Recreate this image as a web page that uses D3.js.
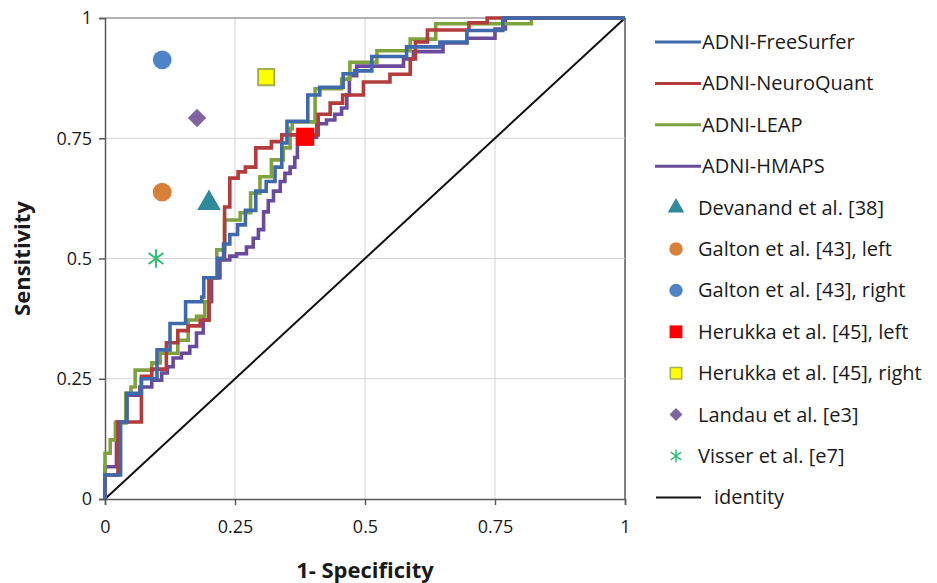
<!doctype html>
<html>
<head>
<meta charset="utf-8">
<title>ROC curves</title>
<script src="https://cdnjs.cloudflare.com/ajax/libs/d3/7.8.5/d3.min.js"></script>
<style>
  body { margin: 0; background: #fff; }
  text { font-family: "Open Sans", sans-serif; fill: #1a1a1a; }
</style>
</head>
<body>
<div id="chart"></div>
<script>
// ROC curves: [1-specificity, sensitivity], step after each point
const freeSurfer = [[0,0],[0,0.05],[0.03,0.16],[0.042,0.22],[0.07,0.25],[0.1,0.31],[0.125,0.365],[0.155,0.41],[0.186,0.42],[0.19,0.46],[0.217,0.5],[0.228,0.53],[0.24,0.55],[0.255,0.57],[0.27,0.6],[0.29,0.64],[0.31,0.66],[0.327,0.69],[0.34,0.74],[0.35,0.785],[0.39,0.84],[0.413,0.856],[0.458,0.884],[0.48,0.89],[0.513,0.92],[0.58,0.94],[0.644,0.95],[0.696,0.974],[0.765,1],[1,1]];
const neuroQuant = [[0,0],[0,0.05],[0.025,0.16],[0.07,0.255],[0.09,0.27],[0.118,0.325],[0.14,0.35],[0.16,0.36],[0.183,0.372],[0.2,0.46],[0.217,0.5],[0.23,0.607],[0.24,0.667],[0.256,0.68],[0.27,0.69],[0.29,0.73],[0.32,0.743],[0.34,0.757],[0.41,0.8],[0.433,0.823],[0.457,0.84],[0.497,0.867],[0.548,0.883],[0.587,0.915],[0.597,0.95],[0.62,0.975],[0.7,0.99],[0.735,1],[1,1]];
const leap = [[0,0],[0,0.095],[0.01,0.123],[0.02,0.158],[0.04,0.22],[0.05,0.233],[0.058,0.268],[0.09,0.283],[0.106,0.303],[0.14,0.33],[0.16,0.372],[0.176,0.38],[0.192,0.41],[0.2,0.46],[0.215,0.518],[0.23,0.58],[0.26,0.595],[0.28,0.636],[0.298,0.67],[0.32,0.705],[0.343,0.73],[0.356,0.77],[0.36,0.784],[0.404,0.853],[0.455,0.873],[0.471,0.908],[0.523,0.932],[0.587,0.956],[0.636,0.988],[0.82,1],[1,1]];
const hmaps = [[0,0],[0,0.067],[0.022,0.16],[0.042,0.216],[0.067,0.233],[0.09,0.247],[0.109,0.262],[0.12,0.275],[0.131,0.293],[0.147,0.303],[0.163,0.317],[0.176,0.345],[0.189,0.372],[0.2,0.41],[0.205,0.46],[0.221,0.497],[0.24,0.505],[0.253,0.51],[0.272,0.524],[0.285,0.542],[0.295,0.56],[0.305,0.597],[0.314,0.62],[0.324,0.64],[0.337,0.66],[0.346,0.677],[0.356,0.69],[0.365,0.71],[0.37,0.752],[0.407,0.78],[0.426,0.788],[0.442,0.8],[0.455,0.813],[0.465,0.84],[0.47,0.88],[0.484,0.9],[0.574,0.915],[0.593,0.93],[0.65,0.948],[0.696,0.958],[0.75,0.977],[0.77,1],[1,1]];
const identity = [[0,0],[1,1]];

// single studies
const studyNames = ["Devanand et al. [38]", "Galton et al. [43], left", "Galton et al. [43], right",
  "Herukka et al. [45], left", "Herukka et al. [45], right", "Landau et al. [e3]", "Visser et al. [e7]"];
const studyFpr  = [0.2, 0.11, 0.11, 0.385, 0.31, 0.177, 0.098];
const studySens = [0.615, 0.638, 0.913, 0.753, 0.877, 0.792, 0.5];

const ticks = [0, 0.25, 0.5, 0.75, 1];

const W = 937, H = 583;
const m = {left: 105, top: 18, right: 312, bottom: 84};
const pw = W - m.left - m.right, ph = H - m.top - m.bottom;

const svg = d3.select('#chart').append('svg').attr('width', W).attr('height', H);
const g = svg.append('g').attr('transform', `translate(${m.left},${m.top})`);

const x = d3.scaleLinear().domain([0, 1]).range([0, pw]);
const y = d3.scaleLinear().domain([0, 1]).range([ph, 0]);

// grid
g.selectAll('.gx').data(ticks.slice(1)).join('line')
  .attr('x1', d => x(d)).attr('x2', d => x(d)).attr('y1', 0).attr('y2', ph)
  .attr('stroke', d => d == 1 ? '#595959' : '#d4d4d4').attr('stroke-width', d => d == 1 ? 1.5 : 1);
g.selectAll('.gy').data(ticks.slice(1)).join('line')
  .attr('y1', d => y(d)).attr('y2', d => y(d)).attr('x1', 0).attr('x2', pw)
  .attr('stroke', d => d == 1 ? '#9a9a9a' : '#d4d4d4').attr('stroke-width', d => d == 1 ? 1.5 : 1);

// axes
const fmt = d => d3.format('')(d);
const xAxis = g.append('g').attr('transform', `translate(0,${ph})`)
  .call(d3.axisBottom(x).tickValues(ticks).tickFormat(fmt).tickSize(6).tickPadding(15));
const yAxis = g.append('g')
  .call(d3.axisLeft(y).tickValues(ticks).tickFormat(fmt).tickSize(6).tickPadding(7));
[xAxis, yAxis].forEach(a => {
  a.select('.domain').attr('stroke', '#595959').attr('stroke-width', 1.5);
  a.selectAll('.tick line').attr('stroke', '#595959').attr('stroke-width', 1.5);
  a.selectAll('.tick text').attr('font-size', 18).attr('font-family', '"Open Sans", sans-serif').attr('fill', '#1a1a1a');
});

svg.append('text').attr('x', m.left + pw / 2).attr('y', 578).attr('text-anchor', 'middle')
  .attr('font-size', 22).attr('font-weight', 'bold').text('1- Specificity');
svg.append('text').attr('transform', `translate(30,${m.top + ph / 2}) rotate(-90)`).attr('text-anchor', 'middle')
  .attr('font-size', 22).attr('font-weight', 'bold').text('Sensitivity');

// curves
const curves = [
  {name: 'ADNI-FreeSurfer', data: freeSurfer, color: '#3e6aac'},
  {name: 'ADNI-NeuroQuant', data: neuroQuant, color: '#b33b3b'},
  {name: 'ADNI-LEAP', data: leap, color: '#7ea23c'},
  {name: 'ADNI-HMAPS', data: hmaps, color: '#6a4b9b'}
];
const step = d3.line().x(d => x(d[0])).y(d => y(d[1])).curve(d3.curveStepAfter);

g.append('path').datum(identity).attr('d', d3.line().x(d => x(d[0])).y(d => y(d[1])))
  .attr('fill', 'none').attr('stroke', '#111').attr('stroke-width', 2);

curves.slice().reverse().forEach(c => {
  g.append('path').datum(c.data).attr('d', step)
    .attr('fill', 'none').attr('stroke', c.color).attr('stroke-width', 3.6);
});

// markers
const asterisk = {
  draw(ctx, size) {
    const r = Math.sqrt(size) / 2;
    ctx.moveTo(0, -r); ctx.lineTo(0, r);
    const a = r * 0.8;
    ctx.moveTo(-a, -a * 0.75); ctx.lineTo(a, a * 0.75);
    ctx.moveTo(-a, a * 0.75); ctx.lineTo(a, -a * 0.75);
  }
};
const markers = [
  {type: d3.symbolTriangle, size: 240, fill: '#2f8a9c', stroke: 'none', rot: 0},
  {type: d3.symbolCircle, size: 280, fill: '#d98038', stroke: 'none', rot: 0},
  {type: d3.symbolCircle, size: 280, fill: '#4d84c6', stroke: 'none', rot: 0},
  {type: d3.symbolSquare, size: 330, fill: '#ff0000', stroke: 'none', rot: 0},
  {type: d3.symbolSquare, size: 260, fill: '#ffff00', stroke: '#a6b04a', rot: 0},
  {type: d3.symbolSquare, size: 170, fill: '#8064a2', stroke: 'none', rot: 45},
  {type: asterisk, size: 340, fill: 'none', stroke: '#2fc074', rot: 0}
];

g.selectAll('.study').data(studyNames).join('path')
  .attr('transform', (d, i) => `translate(${x(studyFpr[i])},${y(studySens[i])}) rotate(${markers[i].rot})`)
  .attr('d', (d, i) => d3.symbol(markers[i].type, markers[i].size)())
  .attr('fill', (d, i) => markers[i].fill)
  .attr('stroke', (d, i) => markers[i].stroke)
  .attr('stroke-width', 2);

// legend
const legend = svg.append('g');
const rowY = i => 42 + i * 41.4;
curves.forEach((c, i) => {
  legend.append('line').attr('x1', 655).attr('x2', 701).attr('y1', rowY(i)).attr('y2', rowY(i))
    .attr('stroke', c.color).attr('stroke-width', 3);
  legend.append('text').attr('x', 702).attr('y', rowY(i)).attr('dy', '0.35em').attr('font-size', 20).text(c.name);
});
studyNames.forEach((n, i) => {
  const r = i + 4;
  const mk = markers[i];
  legend.append('path')
    .attr('transform', `translate(676,${rowY(r)}) rotate(${mk.rot})`)
    .attr('d', d3.symbol(mk.type, mk.size * 0.5)())
    .attr('fill', mk.fill).attr('stroke', mk.stroke).attr('stroke-width', 1.5);
  legend.append('text').attr('x', 698).attr('y', rowY(r)).attr('dy', '0.35em').attr('font-size', 20).text(n);
});
legend.append('line').attr('x1', 656).attr('x2', 701).attr('y1', rowY(11)).attr('y2', rowY(11))
  .attr('stroke', '#111').attr('stroke-width', 2);
legend.append('text').attr('x', 714).attr('y', rowY(11)).attr('dy', '0.35em').attr('font-size', 20).text('identity');
</script>
</body>
</html>
